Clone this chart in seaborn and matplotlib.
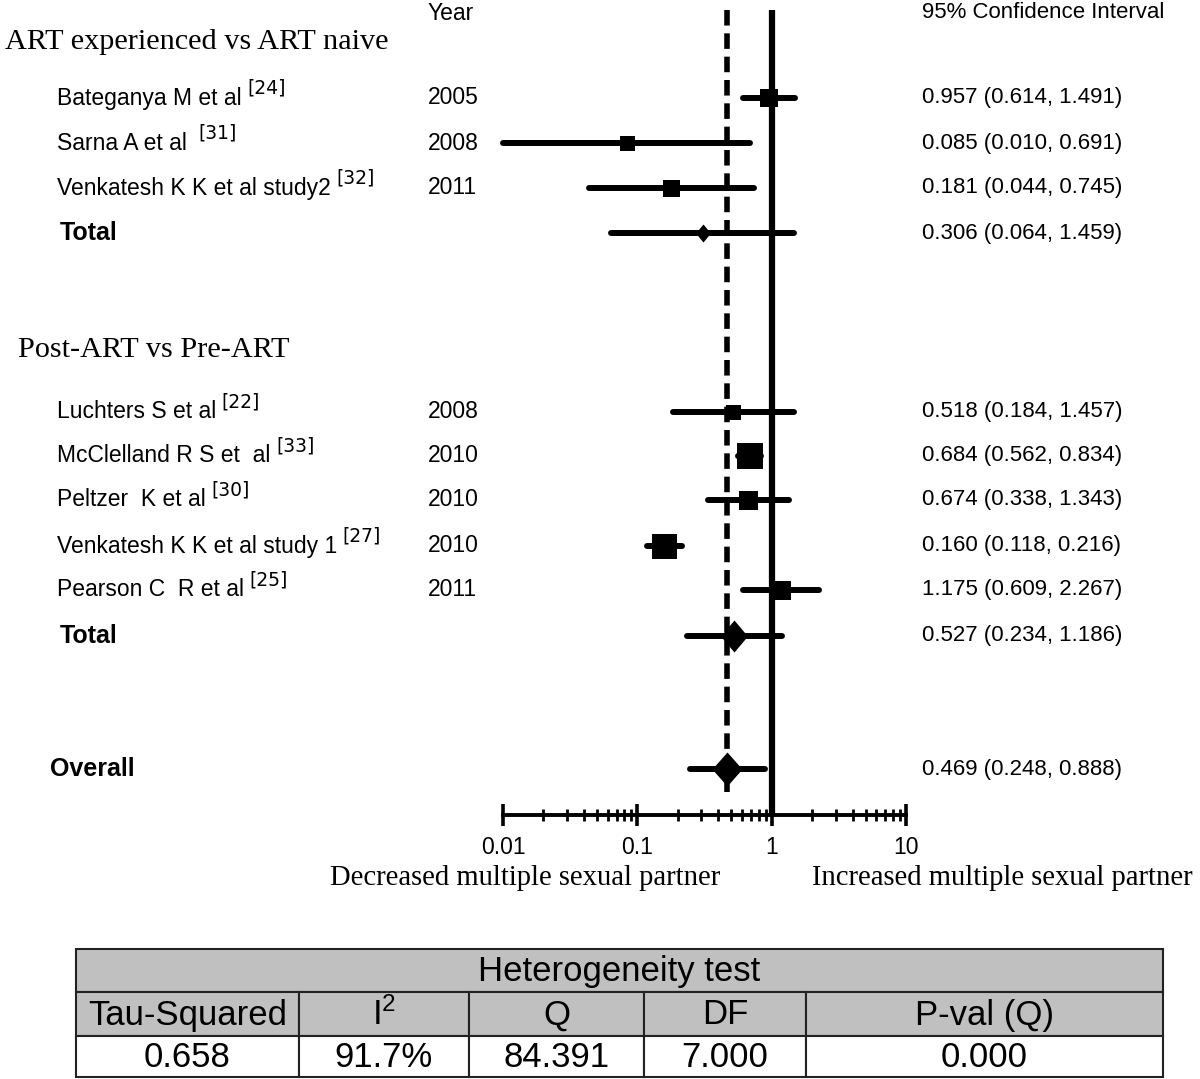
import numpy as np
import pandas as pd
import matplotlib
matplotlib.use("Agg")
import matplotlib.pyplot as plt
from matplotlib import ticker
from matplotlib.patches import Rectangle
import seaborn as sns

# study level results (risk ratio and 95% CI)
studies = ["Bateganya M et al", "Sarna A et al ", "Venkatesh K K et al study2",
           "Luchters S et al", "McClelland R S et  al", "Peltzer  K et al",
           "Venkatesh K K et al study 1", "Pearson C  R et al"]
refs = ["[24]", "[31]", "[32]", "[22]", "[33]", "[30]", "[27]", "[25]"]
years = [2005, 2008, 2011, 2008, 2010, 2010, 2010, 2011]
groups = ["ART experienced vs ART naive"] * 3 + ["Post-ART vs Pre-ART"] * 5
ratio = [0.957, 0.085, 0.181, 0.518, 0.684, 0.674, 0.160, 1.175]
ci_low = [0.614, 0.010, 0.044, 0.184, 0.562, 0.338, 0.118, 0.609]
ci_high = [1.491, 0.691, 0.745, 1.457, 0.834, 1.343, 0.216, 2.267]

# pooled estimates
pooled_labels = ["Total", "Total", "Overall"]
pooled_ratio = [0.306, 0.527, 0.469]
pooled_low = [0.064, 0.234, 0.248]
pooled_high = [1.459, 1.186, 0.888]

# heterogeneity table
het_title = "Heterogeneity test"
het_header = ["Tau-Squared", "I$^{2}$", "Q", "DF", "P-val (Q)"]
het_values = ["0.658", "91.7%", "84.391", "7.000", "0.000"]

axis_ticks = [0.01, 0.1, 1, 10]
left_label = "Decreased multiple sexual partner"
right_label = "Increased multiple sexual partner"

# layout (pixel rows / sizes)
W, H = 1200, 1079
study_y = [98, 143, 188, 412, 456, 500, 546, 590]
pooled_y = [233, 636, 769]
group_pos = {groups[0]: (5, 42), groups[-1]: (18, 350)}
box_px = [18, 15, 17, 15, 26, 19, 25, 19]
diamond_px = [(15, 18), (27, 32), (30, 34)]
pooled_x = [60, 60, 50]
x0_px, x1_px, axis_y = 503, 906, 815
col_edges = [76, 299, 469, 644, 806, 1163]
row_edges = [949, 992, 1036, 1077]

sns.set_theme(style="white")
plt.rcParams['font.family'] = ['Liberation Sans', 'DejaVu Sans']
plt.rcParams['mathtext.fontset'] = 'custom'
plt.rcParams['mathtext.rm'] = 'Liberation Sans'
plt.rcParams['mathtext.it'] = 'Liberation Sans'
plt.rcParams['text.color'] = 'black'

fig = plt.figure(figsize=(W / 100, H / 100), dpi=100)
ax = fig.add_axes([0, 0, 1, 1])
ax.set_xscale('log')

lw = 4.3
# reference lines
ax.plot([1, 1], [10, axis_y], color='black', lw=4.5, solid_capstyle='butt', zorder=2)
ax.plot([pooled_ratio[-1]] * 2, [10, 792], color='black', lw=4.0,
        linestyle=(0, (2.8, 1.4)), dash_capstyle='butt', zorder=2)

# study CIs and boxes
for y, lo, hi in zip(study_y, ci_low, ci_high):
    ax.plot([lo, hi], [y, y], color='black', lw=lw, solid_capstyle='round', zorder=3)
df = pd.DataFrame({"ratio": ratio, "y": study_y,
                   "area": (np.array(box_px) * 0.72) ** 2})
sns.scatterplot(data=df, x="ratio", y="y", marker="s", s=df["area"].values,
                color="black", linewidth=0, ax=ax, zorder=4, legend=False)

# pooled diamonds
for y, est, lo, hi, (dw, dh) in zip(pooled_y, pooled_ratio, pooled_low,
                                     pooled_high, diamond_px):
    ax.plot([lo, hi], [y, y], color='black', lw=lw, solid_capstyle='round', zorder=3)
    verts = [(-dw / 2, 0), (0, dh / 2), (dw / 2, 0), (0, -dh / 2), (-dw / 2, 0)]
    ax.plot([est], [y], marker=verts, markersize=dh * 0.72, color='black',
            markeredgewidth=0, linestyle='none', zorder=4)

dec = (x1_px - x0_px) / 3.0
ax.set_xlim(10 ** (-2 - x0_px / dec), 10 ** (1 + (W - x1_px) / dec))
ax.set_ylim(H, 0)
ax.axis('off')

# x axis
xax = fig.add_axes([x0_px / W, 1 - axis_y / H, (x1_px - x0_px) / W, 0.0001])
xax.set_facecolor('none')
xax.set_xscale('log')
xax.set_xlim(axis_ticks[0], axis_ticks[-1])
xax.set_xticks(axis_ticks)
xax.xaxis.set_major_formatter(ticker.FuncFormatter(lambda v, p: f"{v:g}"))
xax.xaxis.set_minor_formatter(ticker.NullFormatter())
xax.set_yticks([])
for s in ['top', 'left', 'right']:
    xax.spines[s].set_visible(False)
xax.spines['bottom'].set_linewidth(2.8)
xax.spines['bottom'].set_color('black')
xax.tick_params(axis='x', which='major', bottom=True, direction='inout', length=16.5,
                width=2.6, color='black', labelsize=16.5, labelcolor='black', pad=7)
xax.tick_params(axis='x', which='minor', bottom=True, direction='inout', length=8.5,
                width=2.0, color='black')

# text overlay in pixel coords
tax = fig.add_axes([0, 0, 1, 1])
tax.set_xlim(0, W)
tax.set_ylim(H, 0)
tax.axis('off')
tax.patch.set_alpha(0)

fs = 16.5
tax.text(428, 13, "Year", fontsize=fs, va='center')
tax.text(922, 13, "95% Confidence Interval", fontsize=16, va='center')
for g, (gx, gy) in group_pos.items():
    tax.text(gx, gy, g, fontsize=21.8, family='Liberation Serif', va='center')

for name, ref, yr, r, lo, hi, y in zip(studies, refs, years, ratio, ci_low, ci_high, study_y):
    t = tax.text(57, y, name, fontsize=fs, va='center')
    tax.annotate(ref, xy=(1, 0.5), xycoords=t, xytext=(4, 7), textcoords='offset points',
                 fontsize=13.5, family='DejaVu Sans', va='center', ha='left')
    tax.text(428, y, str(yr), fontsize=fs, va='center')
    tax.text(922, y, f"{r:.3f} ({lo:.3f}, {hi:.3f})", fontsize=16, va='center')

for lab, px, y, r, lo, hi in zip(pooled_labels, pooled_x, pooled_y, pooled_ratio,
                                 pooled_low, pooled_high):
    tax.text(px, y, lab, fontsize=18, fontweight='bold', va='center')
    tax.text(922, y, f"{r:.3f} ({lo:.3f}, {hi:.3f})", fontsize=16, va='center')

tax.text(330, 878, left_label, fontsize=20.6, family='Liberation Serif', va='center')
tax.text(812, 878, right_label, fontsize=20.6, family='Liberation Serif', va='center')

# heterogeneity table
gray = '#c0c0c0'
edge = '#222222'
tax.add_patch(Rectangle((col_edges[0], row_edges[0]), col_edges[-1] - col_edges[0],
                        row_edges[1] - row_edges[0], facecolor=gray, edgecolor=edge, lw=1.5))
tax.text((col_edges[0] + col_edges[-1]) / 2, (row_edges[0] + row_edges[1]) / 2 + 1,
         het_title, fontsize=25, ha='center', va='center')
for i, (hd, val) in enumerate(zip(het_header, het_values)):
    xl, xr = col_edges[i], col_edges[i + 1]
    tax.add_patch(Rectangle((xl, row_edges[1]), xr - xl, row_edges[2] - row_edges[1],
                            facecolor=gray, edgecolor=edge, lw=1.5))
    tax.add_patch(Rectangle((xl, row_edges[2]), xr - xl, row_edges[3] - row_edges[2],
                            facecolor='white', edgecolor=edge, lw=1.5))
    tax.text((xl + xr) / 2, (row_edges[1] + row_edges[2]) / 2 + 1, hd,
             fontsize=25, ha='center', va='center')
    tax.text((xl + xr) / 2, (row_edges[2] + row_edges[3]) / 2 + 1, val,
             fontsize=25, ha='center', va='center')

fig.savefig("out.png", dpi=100, facecolor='white')
